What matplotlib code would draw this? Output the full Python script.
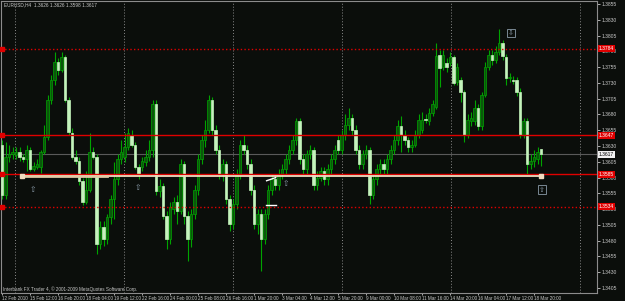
import matplotlib
matplotlib.use("Agg")
import matplotlib.pyplot as plt
import numpy as np

# EURUSD H4 candles, prices in 1/10000 (pips)
opens = [13632, 13553, 13612, 13617, 13615, 13621, 13612, 13609, 13624, 13593,
         13596, 13596, 13621, 13645, 13703, 13735, 13763, 13751, 13771, 13703,
         13651, 13613, 13606, 13574, 13542, 13561, 13621, 13613, 13475, 13501,
         13482, 13517, 13546, 13577, 13609, 13612, 13629, 13648, 13632, 13596,
         13596, 13604, 13612, 13624, 13696, 13558, 13566, 13519, 13482, 13530,
         13541, 13527, 13601, 13519, 13482, 13522, 13561, 13609, 13640, 13656,
         13703, 13656, 13624, 13585, 13601, 13546, 13506, 13538, 13585, 13632,
         13624, 13601, 13561, 13506, 13522, 13482, 13522, 13561, 13577, 13569,
         13585, 13593, 13609, 13624, 13640, 13669, 13609, 13593, 13617, 13624,
         13569, 13580, 13590, 13577, 13593, 13609, 13640, 13624, 13648, 13664,
         13675, 13656, 13624, 13601, 13617, 13624, 13553, 13577, 13593, 13601,
         13593, 13609, 13624, 13640, 13661, 13648, 13640, 13628, 13632, 13648,
         13656, 13673, 13669, 13683, 13692, 13775, 13756, 13762, 13762, 13771,
         13732, 13735, 13716, 13648, 13669, 13669, 13691, 13661, 13711, 13756,
         13775, 13767, 13779, 13793, 13771, 13737, 13735, 13735, 13716, 13648,
         13669, 13601, 13606, 13609, 13626]
highs = [13640, 13636, 13632, 13628, 13628, 13629, 13618, 13632, 13629, 13604,
         13609, 13624, 13664, 13711, 13743, 13779, 13770, 13779, 13775, 13707,
         13659, 13624, 13612, 13580, 13590, 13651, 13628, 13617, 13511, 13511,
         13523, 13553, 13604, 13617, 13640, 13651, 13659, 13656, 13637, 13601,
         13612, 13624, 13640, 13703, 13703, 13577, 13571, 13527, 13541, 13549,
         13553, 13609, 13606, 13527, 13530, 13569, 13617, 13648, 13672, 13711,
         13708, 13664, 13632, 13609, 13606, 13553, 13546, 13593, 13640, 13648,
         13632, 13609, 13569, 13530, 13530, 13530, 13569, 13585, 13585, 13593,
         13601, 13617, 13632, 13648, 13675, 13675, 13617, 13624, 13632, 13629,
         13590, 13596, 13596, 13601, 13617, 13632, 13648, 13656, 13680, 13691,
         13680, 13664, 13632, 13624, 13632, 13629, 13585, 13601, 13609, 13609,
         13617, 13632, 13648, 13672, 13677, 13656, 13645, 13640, 13656, 13680,
         13684, 13680, 13691, 13703, 13793, 13782, 13782, 13770, 13779, 13775,
         13762, 13740, 13719, 13680, 13684, 13703, 13697, 13716, 13763, 13782,
         13782, 13789, 13816, 13798, 13776, 13746, 13741, 13740, 13722, 13675,
         13675, 13617, 13624, 13629, 13626]
lows = [13546, 13546, 13604, 13609, 13609, 13606, 13604, 13590, 13590, 13590,
        13593, 13588, 13617, 13640, 13696, 13727, 13743, 13748, 13700, 13648,
        13609, 13601, 13569, 13536, 13538, 13557, 13609, 13459, 13467, 13471,
        13475, 13506, 13514, 13569, 13601, 13604, 13624, 13628, 13593, 13577,
        13590, 13598, 13606, 13613, 13553, 13549, 13514, 13467, 13475, 13522,
        13506, 13522, 13506, 13448, 13470, 13514, 13553, 13601, 13628, 13651,
        13648, 13617, 13577, 13574, 13538, 13495, 13498, 13530, 13577, 13617,
        13593, 13553, 13498, 13490, 13432, 13475, 13514, 13553, 13561, 13561,
        13577, 13585, 13601, 13617, 13632, 13601, 13585, 13585, 13609, 13561,
        13561, 13574, 13569, 13569, 13585, 13601, 13617, 13617, 13640, 13656,
        13648, 13617, 13593, 13593, 13609, 13538, 13546, 13569, 13585, 13585,
        13585, 13601, 13617, 13632, 13621, 13632, 13621, 13621, 13628, 13643,
        13651, 13667, 13664, 13678, 13688, 13724, 13751, 13748, 13757, 13726,
        13727, 13699, 13637, 13643, 13662, 13664, 13656, 13656, 13707, 13751,
        13759, 13762, 13775, 13767, 13727, 13732, 13729, 13710, 13643, 13643,
        13585, 13593, 13596, 13601, 13598]
closes = [13553, 13612, 13617, 13621, 13621, 13612, 13609, 13624, 13593, 13598,
          13601, 13621, 13645, 13703, 13735, 13763, 13751, 13771, 13703, 13653,
          13613, 13606, 13574, 13541, 13561, 13621, 13613, 13475, 13501, 13482,
          13517, 13546, 13577, 13609, 13621, 13628, 13651, 13632, 13596, 13585,
          13606, 13612, 13624, 13696, 13558, 13566, 13519, 13482, 13533, 13541,
          13527, 13601, 13519, 13482, 13522, 13561, 13609, 13640, 13656, 13703,
          13656, 13624, 13585, 13601, 13546, 13506, 13538, 13585, 13632, 13624,
          13601, 13561, 13506, 13522, 13482, 13522, 13561, 13577, 13569, 13585,
          13593, 13609, 13624, 13640, 13669, 13609, 13593, 13617, 13624, 13569,
          13580, 13590, 13577, 13593, 13609, 13624, 13624, 13648, 13664, 13675,
          13656, 13624, 13601, 13617, 13624, 13553, 13577, 13593, 13601, 13593,
          13609, 13624, 13640, 13661, 13648, 13640, 13628, 13632, 13648, 13672,
          13672, 13672, 13683, 13696, 13773, 13754, 13775, 13756, 13771, 13730,
          13756, 13716, 13648, 13672, 13675, 13691, 13661, 13711, 13756, 13775,
          13767, 13779, 13793, 13773, 13738, 13740, 13733, 13716, 13648, 13669,
          13601, 13606, 13612, 13621, 13617]

price_ticks = [1.3405, 1.3430, 1.3455, 1.3480, 1.3505, 1.3530, 1.3555, 1.3580,
               1.3605, 1.3630, 1.3655, 1.3680, 1.3705, 1.3730, 1.3755, 1.3780,
               1.3805, 1.3830, 1.3855]
date_labels = ["12 Feb 2010", "15 Feb 12:00", "16 Feb 20:00", "18 Feb 04:00",
               "19 Feb 12:00", "22 Feb 16:00", "24 Feb 00:00", "25 Feb 08:00",
               "26 Feb 16:00", "1 Mar 20:00", "3 Mar 04:00", "4 Mar 12:00",
               "5 Mar 20:00", "9 Mar 00:00", "10 Mar 08:00", "11 Mar 16:00",
               "14 Mar 20:00", "16 Mar 04:00", "17 Mar 12:00", "18 Mar 20:00"]
week_separators = [3.7, 34.9, 66.0, 97.1, 128.3, 165.1]
red_levels = [1.3784, 1.3647, 1.3585, 1.3534]
red_styles = [':', '-', '-', ':']
support_line = 1.3583
bid = 1.3617
# short white segments drawn on the chart
dash_x = [[75.6, 78.2], [75.4, 78.3]]
dash_y = [[1.3575, 1.3580], [1.3536, 1.3536]]

o = np.array(opens) / 10000
h = np.array(highs) / 10000
l = np.array(lows) / 10000
c = np.array(closes) / 10000
idx = np.arange(len(o))

bg = '#0b0e0b'
wick = '#00a400'
bull_fill = '#0b560b'
bear_fill = '#c4f3bc'
txt = '#c8c8c8'
fnt = 'Liberation Sans'

fig = plt.figure(figsize=(6.25, 3.01), dpi=100, facecolor=bg)
ax = fig.add_axes([1/625, 8/301, 596/625, 292/301], facecolor=bg)

for x in week_separators:
    ax.axvline(x, color='#8a8a8a', lw=0.7, ls=(0, (1, 2)), zorder=1)

ax.vlines(idx, l, h, color=wick, lw=0.8, zorder=2)
up = c >= o
ax.bar(idx[up], (c - o)[up], bottom=o[up], width=0.72, color=bull_fill,
       edgecolor=wick, linewidth=0.5, zorder=3)
ax.bar(idx[~up], (o - c)[~up], bottom=c[~up], width=0.72, color=bear_fill,
       edgecolor=bear_fill, linewidth=0.5, zorder=3)

ax.axhline(bid, color='#5a5a5a', lw=0.8, zorder=1)
for lvl, st in zip(red_levels, red_styles):
    ax.axhline(lvl, color='#e00000', lw=1.0, ls=st, zorder=4)
    ax.plot([-0.1], [lvl], marker='s', ms=2.5, color='#e00000', zorder=5, clip_on=False)
    ax.text(1.003, lvl, '%.4f' % lvl, transform=ax.get_yaxis_transform(),
            fontsize=3.6, family=fnt, color='white', va='center', ha='left', zorder=10,
            bbox=dict(boxstyle='square,pad=0.2', fc='#e00000', ec='none'))
ax.text(1.003, bid, '%.4f' % bid, transform=ax.get_yaxis_transform(),
        fontsize=3.6, family=fnt, color='black', va='center', ha='left', zorder=10,
        bbox=dict(boxstyle='square,pad=0.2', fc='#f0f0f0', ec='none'))

# horizontal trend line
ax.plot([5.7, 154], [support_line, support_line], color='#f3dcc0', lw=1.3, zorder=6)
ax.plot([5.7, 30], [support_line, support_line], color='#e2c9a6', lw=2.0, zorder=6)
ax.plot([5.7, 154], [support_line, support_line], ls='none', marker='s', ms=2.5,
        color='#f3dcc0', zorder=7)
for xs, ys in zip(dash_x, dash_y):
    ax.plot(xs, ys, color='white', lw=1.0, zorder=7)

# arrow marks
for xi, yi in [(8.9, 1.3561), (38.9, 1.3564), (81.1, 1.3571)]:
    ax.text(xi, yi, '\u21e7', fontsize=5.5, color='#8a9aa8', ha='center', va='center', zorder=7)
ax.text(145.4, 1.3809, '\u21e9', fontsize=5, color='#8a9aa8', ha='center', va='center', zorder=7,
        bbox=dict(boxstyle='square,pad=0.2', fc=bg, ec='#8a9aa8', lw=0.6))
ax.text(154.3, 1.3561, '\u21e7', fontsize=5, color='#8a9aa8', ha='center', va='center', zorder=7,
        bbox=dict(boxstyle='square,pad=0.2', fc=bg, ec='#8a9aa8', lw=0.6))

ax.set_xlim(-0.29, 170)
ax.set_ylim(1.33971, 1.38598)

ax.yaxis.tick_right()
ax.set_yticks(price_ticks)
ax.set_yticklabels(['%.4f' % p for p in price_ticks], family=fnt)
ax.set_xticks(np.arange(len(date_labels)) * 8)
ax.set_xticklabels(date_labels, ha='left', family=fnt)
ax.tick_params(axis='y', colors=txt, labelsize=3.6, length=2, width=0.6, pad=1.5)
ax.tick_params(axis='x', colors=txt, labelsize=3.3, length=1.5, width=0.6, pad=0.5)
for lab in ax.get_yticklabels() + ax.get_xticklabels():
    lab.set_color(txt)
for s in ax.spines.values():
    s.set_color('#8c8c8c')
    s.set_linewidth(0.8)

ax.text(0.005, 0.986, 'EURUSD,H4  1.3626 1.3626 1.3598 1.3617', transform=ax.transAxes,
        fontsize=3.4, family=fnt, color=txt, va='center', ha='left')
ax.text(0.004, 0.014, 'Interbank FX Trader 4, \u00a9 2001-2009 MetaQuotes Software Corp.',
        transform=ax.transAxes, fontsize=3.3, family=fnt, color=txt, va='center', ha='left')

fig.savefig('out.png', dpi=100, facecolor=bg)
